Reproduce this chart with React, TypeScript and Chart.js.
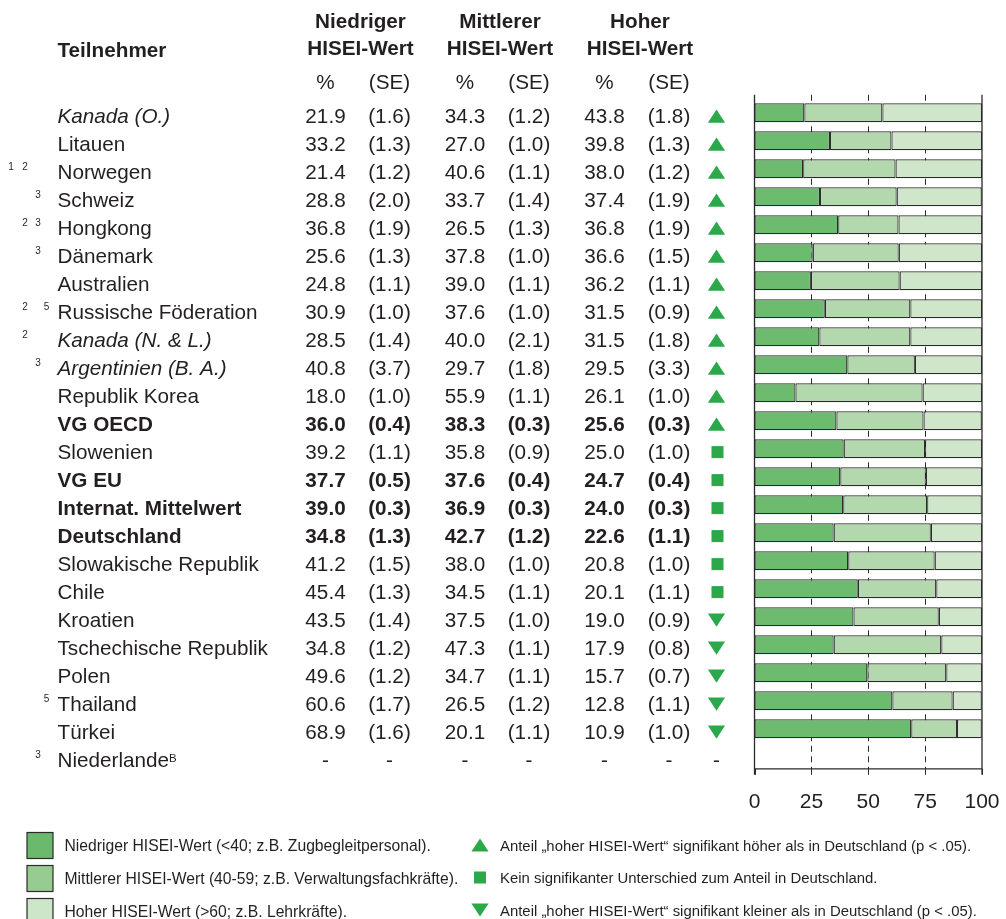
import { useEffect, useRef } from "react";
import { Chart, registerables } from "chart.js";

Chart.register(...registerables);

const names = [
  "Kanada (O.)", "Litauen", "Norwegen", "Schweiz", "Hongkong", "Dänemark", "Australien",
  "Russische Föderation", "Kanada (N. & L.)", "Argentinien (B. A.)", "Republik Korea",
  "VG OECD", "Slowenien", "VG EU", "Internat. Mittelwert", "Deutschland",
  "Slowakische Republik", "Chile", "Kroatien", "Tschechische Republik", "Polen",
  "Thailand", "Türkei", "Niederlande",
];
const lowPct = [21.9, 33.2, 21.4, 28.8, 36.8, 25.6, 24.8, 30.9, 28.5, 40.8, 18.0, 36.0, 39.2, 37.7, 39.0, 34.8, 41.2, 45.4, 43.5, 34.8, 49.6, 60.6, 68.9, null];
const lowSE = [1.6, 1.3, 1.2, 2.0, 1.9, 1.3, 1.1, 1.0, 1.4, 3.7, 1.0, 0.4, 1.1, 0.5, 0.3, 1.3, 1.5, 1.3, 1.4, 1.2, 1.2, 1.7, 1.6, null];
const midPct = [34.3, 27.0, 40.6, 33.7, 26.5, 37.8, 39.0, 37.6, 40.0, 29.7, 55.9, 38.3, 35.8, 37.6, 36.9, 42.7, 38.0, 34.5, 37.5, 47.3, 34.7, 26.5, 20.1, null];
const midSE = [1.2, 1.0, 1.1, 1.4, 1.3, 1.0, 1.1, 1.0, 2.1, 1.8, 1.1, 0.3, 0.9, 0.4, 0.3, 1.2, 1.0, 1.1, 1.0, 1.1, 1.1, 1.2, 1.1, null];
const highPct = [43.8, 39.8, 38.0, 37.4, 36.8, 36.6, 36.2, 31.5, 31.5, 29.5, 26.1, 25.6, 25.0, 24.7, 24.0, 22.6, 20.8, 20.1, 19.0, 17.9, 15.7, 12.8, 10.9, null];
const highSE = [1.8, 1.3, 1.2, 1.9, 1.9, 1.5, 1.1, 0.9, 1.8, 3.3, 1.0, 0.3, 1.0, 0.4, 0.3, 1.1, 1.0, 1.1, 0.9, 0.8, 0.7, 1.1, 1.0, null];
const significance = [
  "up", "up", "up", "up", "up", "up", "up", "up", "up", "up", "up", "up",
  "same", "same", "same", "same", "same", "same",
  "down", "down", "down", "down", "down", "none",
];
const footnotes = [
  [], [], ["1", "2"], ["3"], ["2", "3"], ["3"], [], ["2", "5"], ["2"], ["3"], [],
  [], [], [], [], [], [], [], [], [], [], ["5"], [], ["3"],
];
const italicRows = ["Kanada (O.)", "Kanada (N. & L.)", "Argentinien (B. A.)"];
const boldRows = ["VG OECD", "VG EU", "Internat. Mittelwert", "Deutschland"];
const axisTicks = [0, 25, 50, 75, 100];
const seriesLabels = ["Niedriger HISEI-Wert", "Mittlerer HISEI-Wert", "Hoher HISEI-Wert"];
const headerLine1 = ["Niedriger", "Mittlerer", "Hoher"];
const headerLine2 = ["HISEI-Wert", "HISEI-Wert", "HISEI-Wert"];
const legendTexts = [
  "Niedriger HISEI-Wert (<40; z.B. Zugbegleitpersonal).",
  "Mittlerer HISEI-Wert (40-59; z.B. Verwaltungsfachkräfte).",
  "Hoher HISEI-Wert (>60; z.B. Lehrkräfte).",
];
const markerLegendTexts = [
  "Anteil \u201Ehoher HISEI-Wert\u201C signifikant höher als in Deutschland (p < .05).",
  "Kein signifikanter Unterschied zum Anteil in Deutschland.",
  "Anteil \u201Ehoher HISEI-Wert\u201C signifikant kleiner als in Deutschland (p < .05).",
];

const FONT = '"Liberation Sans", Arial, Helvetica, sans-serif';
const TEXT = "#231f20";
const LINE = "#2b2b2b";
const MARK = "#2aa84a";
const barColors = ["#6cbb6f", "#b3d8ae", "#cfe6cb"];
const legendColors = ["#6ab96d", "#96cb91", "#cde5c9"];

function font(size: number, bold = false, italic = false) {
  return `${italic ? "italic " : ""}${bold ? "bold " : ""}${size}px ${FONT}`;
}

function drawMarker(ctx: CanvasRenderingContext2D, kind: string, cx: number, cy: number) {
  ctx.fillStyle = MARK;
  ctx.beginPath();
  if (kind === "up") {
    ctx.moveTo(cx - 8.6, cy + 6.6);
    ctx.lineTo(cx + 8.6, cy + 6.6);
    ctx.lineTo(cx, cy - 6.6);
    ctx.closePath();
    ctx.fill();
  } else if (kind === "down") {
    ctx.moveTo(cx - 8.6, cy - 6.6);
    ctx.lineTo(cx + 8.6, cy - 6.6);
    ctx.lineTo(cx, cy + 6.6);
    ctx.closePath();
    ctx.fill();
  } else if (kind === "same") {
    ctx.fillRect(cx - 6, cy - 6, 12, 12);
  }
}

const fmt = (v: number | null) => (v === null ? "-" : v.toFixed(1));
const fmtSE = (v: number | null) => (v === null ? "-" : `(${v.toFixed(1)})`);

const tablePlugin = {
  id: "tablePlugin",
  beforeDatasetsDraw(chart: any) {
    const ctx: CanvasRenderingContext2D = chart.ctx;
    const x = chart.scales.x;
    const area = chart.chartArea;
    const top = area.top - 4;
    const bottom = area.bottom - 2;
    ctx.save();
    ctx.strokeStyle = LINE;
    ctx.lineWidth = 1;
    ctx.setLineDash([6, 4.5]);
    [25, 50, 75].forEach((v) => {
      const px = Math.round(x.getPixelForValue(v)) + 0.5;
      ctx.beginPath();
      ctx.moveTo(px, top);
      ctx.lineTo(px, bottom);
      ctx.stroke();
    });
    ctx.restore();
  },
  afterDatasetsDraw(chart: any) {
    const ctx: CanvasRenderingContext2D = chart.ctx;
    const x = chart.scales.x;
    const y = chart.scales.y;
    const area = chart.chartArea;
    const top = area.top - 4;
    const bottom = area.bottom - 2;
    ctx.save();

    // frame
    ctx.strokeStyle = LINE;
    ctx.lineWidth = 1.3;
    const lx = x.getPixelForValue(0);
    const rx = x.getPixelForValue(100);
    ctx.beginPath();
    ctx.moveTo(lx, top);
    ctx.lineTo(lx, bottom + 6);
    ctx.moveTo(rx, top);
    ctx.lineTo(rx, bottom + 6);
    ctx.moveTo(lx, bottom);
    ctx.lineTo(rx, bottom);
    ctx.stroke();
    ctx.lineWidth = 1;
    axisTicks.forEach((v) => {
      const px = Math.round(x.getPixelForValue(v)) + 0.5;
      ctx.beginPath();
      ctx.moveTo(px, bottom);
      ctx.lineTo(px, bottom + 6);
      ctx.stroke();
    });
    ctx.fillStyle = TEXT;
    ctx.font = font(21);
    ctx.textAlign = "center";
    ctx.textBaseline = "alphabetic";
    axisTicks.forEach((v) => {
      ctx.fillText(String(v), x.getPixelForValue(v), bottom + 39);
    });

    // headers
    const colCenters = [325.5, 389.5, 465, 529, 604.5, 669];
    const groupCenters = [360.5, 500, 640];
    ctx.font = font(20.7, true);
    ctx.textAlign = "left";
    ctx.fillText("Teilnehmer", 57.5, 56.5);
    ctx.textAlign = "center";
    groupCenters.forEach((cx, i) => {
      ctx.fillText(headerLine1[i], cx, 28.3);
      ctx.fillText(headerLine2[i], cx, 55);
    });
    ctx.font = font(20.7);
    for (let g = 0; g < 3; g++) {
      ctx.fillText("%", colCenters[g * 2], 89);
      ctx.fillText("(SE)", colCenters[g * 2 + 1], 89);
    }

    // rows
    names.forEach((name, i) => {
      const cy = y.getPixelForValue(i);
      const base = cy + 10.5;
      const bold = boldRows.includes(name);
      const italic = italicRows.includes(name);
      ctx.fillStyle = TEXT;
      ctx.textAlign = "left";
      ctx.font = font(20.7, bold, italic);
      ctx.fillText(name, 57.5, base);
      if (name === "Niederlande") {
        const w = ctx.measureText(name).width;
        ctx.font = font(11.5);
        ctx.fillText("B", 57.5 + w, cy + 5);
      }
      ctx.font = font(10);
      ctx.textAlign = "center";
      footnotes[i].forEach((n) => {
        const fx = n === "1" ? 11 : n === "2" ? 25 : n === "3" ? 38 : 46.5;
        ctx.fillText(n, fx, cy + 0.8);
      });
      ctx.font = font(20.7, bold);
      ctx.textAlign = "center";
      const vals = [
        fmt(lowPct[i]), fmtSE(lowSE[i]),
        fmt(midPct[i]), fmtSE(midSE[i]),
        fmt(highPct[i]), fmtSE(highSE[i]),
      ];
      vals.forEach((t, k) => ctx.fillText(t, colCenters[k], base));
      if (significance[i] === "none") {
        ctx.font = font(20.7);
        ctx.fillText("-", 716.5, base);
      } else {
        drawMarker(ctx, significance[i], significance[i] === "same" ? 717.5 : 716.5, cy + 3.3);
      }
    });

    // legend
    ctx.textAlign = "left";
    legendTexts.forEach((t, i) => {
      const by = 832.5 + i * 33;
      ctx.fillStyle = legendColors[i];
      ctx.fillRect(27, by, 26, 26);
      ctx.strokeStyle = LINE;
      ctx.lineWidth = 1.2;
      ctx.strokeRect(27, by, 26, 26);
      ctx.fillStyle = TEXT;
      ctx.font = font(15.7);
      ctx.fillText(t, 64.5, 850.8 + i * 33);
    });
    const kinds = ["up", "same", "down"];
    markerLegendTexts.forEach((t, i) => {
      const cy = 845 + i * 32.5;
      drawMarker(ctx, kinds[i], 480, cy);
      ctx.fillStyle = TEXT;
      ctx.font = font(14.9);
      ctx.textAlign = "left";
      ctx.fillText(t, 500, cy + 5.5);
    });

    ctx.restore();
  },
};

export default function App() {
  const ref = useRef<HTMLCanvasElement | null>(null);
  useEffect(() => {
    if (!ref.current) return;
    const common = {
      borderColor: LINE,
      borderWidth: 1.2,
      borderSkipped: false,
      categoryPercentage: 1,
      barPercentage: 0.68,
    };
    const chart = new Chart(ref.current, {
      type: "bar",
      data: {
        labels: names,
        datasets: [
          { label: seriesLabels[0], data: lowPct, backgroundColor: barColors[0], ...common },
          { label: seriesLabels[1], data: midPct, backgroundColor: barColors[1], ...common },
          { label: seriesLabels[2], data: highPct, backgroundColor: barColors[2], ...common },
        ] as any,
      },
      options: {
        indexAxis: "y",
        responsive: false,
        animation: false,
        devicePixelRatio: 1,
        layout: { padding: { left: 754.5, right: 24, top: 98.8, bottom: 148.2 } },
        plugins: { legend: { display: false }, tooltip: { enabled: false } },
        scales: {
          x: { type: "linear", min: 0, max: 100, stacked: true, display: false },
          y: { type: "category", stacked: true, display: false },
        },
      } as any,
      plugins: [tablePlugin],
    });
    return () => chart.destroy();
  }, []);
  return (
    <div style={{ position: "absolute", left: 0, top: 0, width: 1006, height: 919, background: "#fff" }}>
      <canvas ref={ref} width={1006} height={919} style={{ display: "block" }} />
    </div>
  );
}
